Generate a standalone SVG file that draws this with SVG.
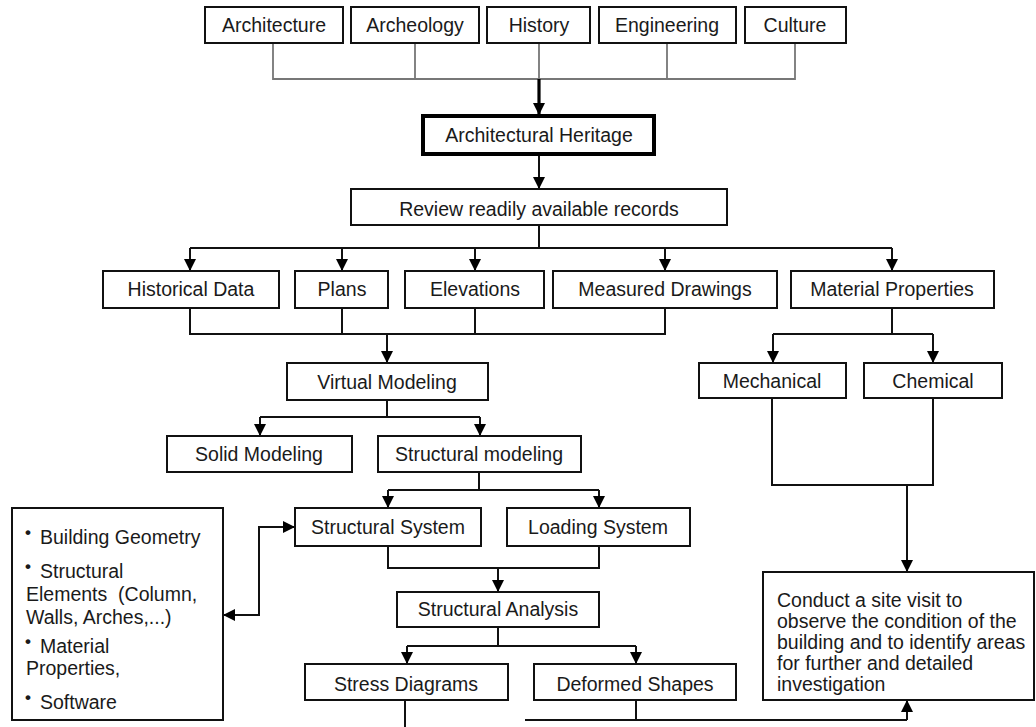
<svg xmlns="http://www.w3.org/2000/svg" width="1036" height="727" viewBox="0 0 1036 727">
<style>
.box{fill:#fff;stroke:#111;stroke-width:2}
.thick{fill:#fff;stroke:#000;stroke-width:4}
text{font-family:"Liberation Sans",Arial,sans-serif;font-size:19.5px;fill:#1a1a1a}
.c{text-anchor:middle}
.ln{fill:none;stroke:#111;stroke-width:2}
.gl{fill:none;stroke:#777;stroke-width:1.8}
.tk{fill:none;stroke:#000;stroke-width:3.2}
.bl{font-size:17px;font-weight:bold}
.pre{white-space:pre}
</style>
<defs>
<marker id="ah" viewBox="0 0 12 12" refX="12" refY="6" markerWidth="12" markerHeight="12" markerUnits="userSpaceOnUse" orient="auto-start-reverse">
<path d="M0,0 L12,6 L0,12 z" fill="#000"/>
</marker>
</defs>
<rect width="1036" height="727" fill="#fff"/>
<g id="connectors">
<path class="gl" d="M273,43 V79 H795 V43 M415,43 V79 M539,43 V79 M667,43 V79"/>
<path class="tk" d="M539,79 V115" marker-end="url(#ah)"/>
<path class="ln" d="M539,155 V189" marker-end="url(#ah)"/>
<path class="ln" d="M539,225 V248 M190,248 H892"/>
<path class="ln" d="M190,248 V271" marker-end="url(#ah)"/>
<path class="ln" d="M342,248 V271" marker-end="url(#ah)"/>
<path class="ln" d="M475,248 V271" marker-end="url(#ah)"/>
<path class="ln" d="M665,248 V271" marker-end="url(#ah)"/>
<path class="ln" d="M892,248 V271" marker-end="url(#ah)"/>
<path class="ln" d="M190,308 V334 H665 V308 M342,308 V334 M475,308 V334"/>
<path class="ln" d="M387,334 V363" marker-end="url(#ah)"/>
<path class="ln" d="M892,308 V334 M773,334 H933"/>
<path class="ln" d="M773,334 V363" marker-end="url(#ah)"/>
<path class="ln" d="M933,334 V363" marker-end="url(#ah)"/>
<path class="ln" d="M387,400 V417 M260,417 H480"/>
<path class="ln" d="M260,417 V436" marker-end="url(#ah)"/>
<path class="ln" d="M480,417 V436" marker-end="url(#ah)"/>
<path class="ln" d="M479,472 V490 M388,490 H599"/>
<path class="ln" d="M388,490 V508" marker-end="url(#ah)"/>
<path class="ln" d="M599,490 V508" marker-end="url(#ah)"/>
<path class="ln" d="M388,546 V568 H599 V546"/>
<path class="ln" d="M498,568 V592" marker-end="url(#ah)"/>
<path class="ln" d="M498,627 V646 M407,646 H636"/>
<path class="ln" d="M407,646 V664" marker-end="url(#ah)"/>
<path class="ln" d="M636,646 V664" marker-end="url(#ah)"/>
<path class="ln" d="M223,615 H259 V527 H295" marker-start="url(#ah)" marker-end="url(#ah)"/>
<path class="ln" d="M772,398 V485 H933 V398"/>
<path class="ln" d="M907,485 V572" marker-end="url(#ah)"/>
<path class="ln" d="M405,700 V727 M636,700 V720 M525,720 H907"/>
<path class="ln" d="M907,720 V700" marker-end="url(#ah)"/>
</g>
<g id="architecture"><rect class="box" x="205" y="7" width="138" height="36"/><text class="c" x="274" y="32">Architecture</text></g>
<g id="archeology"><rect class="box" x="351" y="7" width="128" height="36"/><text class="c" x="415" y="32">Archeology</text></g>
<g id="history"><rect class="box" x="487" y="7" width="103" height="36"/><text class="c" x="539" y="32">History</text></g>
<g id="engineering"><rect class="box" x="599" y="7" width="137" height="36"/><text class="c" x="667" y="32">Engineering</text></g>
<g id="culture"><rect class="box" x="745" y="7" width="101" height="36"/><text class="c" x="795" y="32">Culture</text></g>
<g id="heritage"><rect class="thick" x="423" y="116" width="231" height="38"/><text class="c" x="539" y="142">Architectural Heritage</text></g>
<g id="review"><rect class="box" x="351" y="189" width="376" height="36"/><text class="c" x="539" y="216">Review readily available records</text></g>
<g id="historical"><rect class="box" x="103" y="271" width="176" height="37"/><text class="c" x="191" y="296">Historical Data</text></g>
<g id="plans"><rect class="box" x="295" y="271" width="93" height="37"/><text class="c" x="342" y="296">Plans</text></g>
<g id="elevations"><rect class="box" x="405" y="271" width="139" height="37"/><text class="c" x="475" y="296">Elevations</text></g>
<g id="measured"><rect class="box" x="553" y="271" width="224" height="37"/><text class="c" x="665" y="296">Measured Drawings</text></g>
<g id="material"><rect class="box" x="791" y="271" width="203" height="37"/><text class="c" x="892" y="296">Material Properties</text></g>
<g id="virtual"><rect class="box" x="287" y="363" width="201" height="37"/><text class="c" x="387" y="389">Virtual Modeling</text></g>
<g id="mechanical"><rect class="box" x="699" y="363" width="147" height="35"/><text class="c" x="772" y="388">Mechanical</text></g>
<g id="chemical"><rect class="box" x="864" y="363" width="138" height="35"/><text class="c" x="933" y="388">Chemical</text></g>
<g id="solid"><rect class="box" x="167" y="436" width="185" height="36"/><text class="c" x="259" y="461">Solid Modeling</text></g>
<g id="structmodel"><rect class="box" x="378" y="436" width="203" height="36"/><text class="c" x="479" y="461">Structural modeling</text></g>
<g id="structsys"><rect class="box" x="295" y="508" width="186" height="38"/><text class="c" x="388" y="534">Structural System</text></g>
<g id="loading"><rect class="box" x="507" y="508" width="183" height="38"/><text class="c" x="598" y="534">Loading System</text></g>
<g id="analysis"><rect class="box" x="397" y="592" width="202" height="35"/><text class="c" x="498" y="616">Structural Analysis</text></g>
<g id="stress"><rect class="box" x="305" y="664" width="203" height="36"/><text class="c" x="406" y="691">Stress Diagrams</text></g>
<g id="deformed"><rect class="box" x="534" y="664" width="202" height="36"/><text class="c" x="635" y="691">Deformed Shapes</text></g>
<g id="inputs"><rect class="box" x="12" y="508" width="211" height="212"/>
<text x="25" y="538"><tspan class="bl">•</tspan><tspan x="40" y="544">Building Geometry</tspan></text>
<text x="25" y="572"><tspan class="bl">•</tspan><tspan x="40" y="578">Structural</tspan></text>
<text class="pre" x="26" y="601">Elements  (Column,</text>
<text x="26" y="624">Walls, Arches,...)</text>
<text x="25" y="647"><tspan class="bl">•</tspan><tspan x="40" y="653">Material</tspan></text>
<text x="26" y="675">Properties,</text>
<text x="25" y="703"><tspan class="bl">•</tspan><tspan x="40" y="709">Software</tspan></text>
</g>
<g id="sitevisit"><rect class="box" x="763" y="572" width="271" height="128"/>
<text x="777" y="607">Conduct a site visit to</text>
<text x="777" y="628">observe the condition of the</text>
<text x="777" y="649">building and to identify areas</text>
<text x="777" y="670">for further and detailed</text>
<text x="777" y="691">investigation</text>
</g>
</svg>
